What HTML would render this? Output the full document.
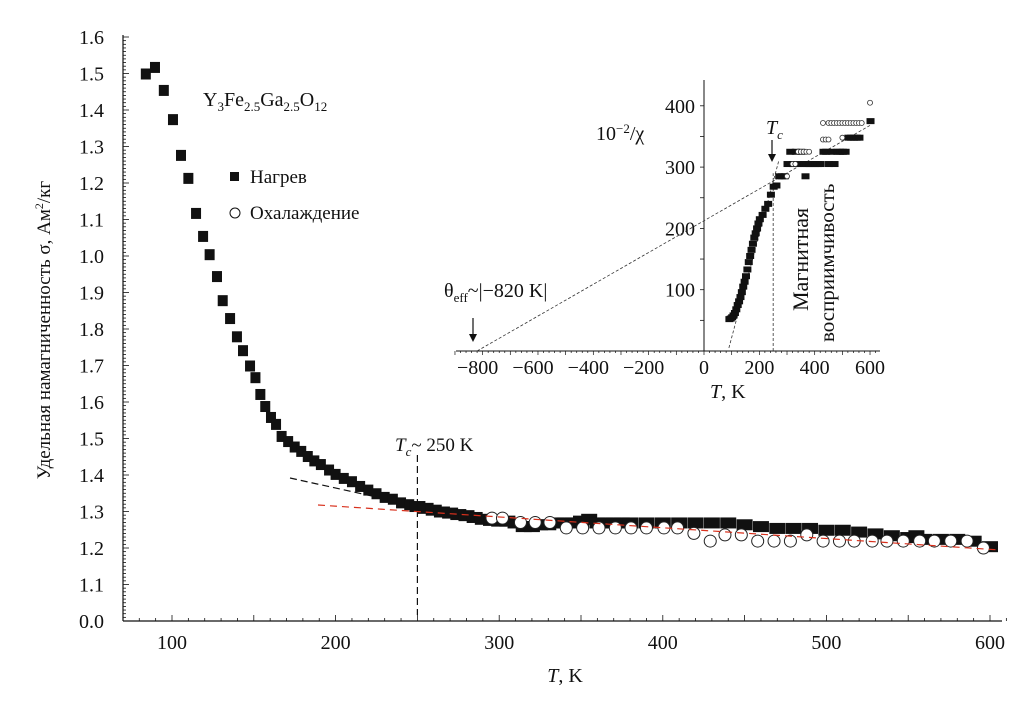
<!DOCTYPE html>
<html><head><meta charset="utf-8">
<style>
html,body{margin:0;padding:0;background:#fff;}
svg text{font-family:"Liberation Serif",serif;fill:#111;}
</style></head>
<body>
<svg id="chart" width="1029" height="712" viewBox="0 0 1029 712" xmlns="http://www.w3.org/2000/svg">
<g id="main-axes"></g>
<g id="main-marks"></g>
<g id="inset"></g>
<text x="203" y="106" font-size="20">Y<tspan font-size="13" dy="5">3</tspan><tspan dy="-5">Fe</tspan><tspan font-size="13" dy="5">2.5</tspan><tspan dy="-5">Ga</tspan><tspan font-size="13" dy="5">2.5</tspan><tspan dy="-5">O</tspan><tspan font-size="13" dy="5">12</tspan></text>
<rect x="230" y="172" width="9" height="9" fill="#111"/>
<text x="250" y="183" font-size="19">Нагрев</text>
<circle cx="235" cy="213" r="5" fill="#fff" stroke="#111"/>
<text x="250" y="219" font-size="19">Охалаждение</text>
<text x="395" y="451" font-size="19"><tspan font-style="italic">T</tspan><tspan font-style="italic" font-size="13" dy="5">c</tspan><tspan dy="-5">~ 250 K</tspan></text>
<text transform="translate(50,330) rotate(-90)" text-anchor="middle" font-size="19">Удельная намагниченность σ, Ам<tspan font-size="12" dy="-7">2</tspan><tspan dy="7">/кг</tspan></text>
<text x="565" y="682" text-anchor="middle" font-size="20"><tspan font-style="italic">T</tspan>, K</text>
</svg>
<script>
const xTicks=[100,200,300,400,500,600];
const yTickValues=[0,0.1,0.2,0.3,0.4,0.5,0.6,0.7,0.8,0.9,1.0,1.1,1.2,1.3,1.4,1.5,1.6];
const yTickLabels=["0.0","1.1","1.2","1.3","1.4","1.5","1.6","1.7","1.8","1.9","1.0","1.1","1.2","1.3","1.4","1.5","1.6"];
const heatT=[84,89.6,95,100.6,105.5,110,114.7,119,123,127.5,131,135.5,139.7,143.4,147.7,151,154,157,160.5,163.6,167,171,175,179,183,187,191,196,200,205,210,215,220,225,230,235,240,245,250,255,260,265,270,275,280,285,290,295,300,305,310,315,320,325,330,335,340,345,350,355,360,365,370,375,380,390,400,410,420,430,440,450,460,470,480,490,500,510,520,530,540,550,555,560,570,580,590,600];
const heatS=[1.50,1.518,1.455,1.375,1.277,1.214,1.118,1.055,1.005,0.945,0.879,0.83,0.78,0.742,0.70,0.668,0.622,0.589,0.559,0.54,0.507,0.493,0.478,0.466,0.452,0.44,0.43,0.415,0.403,0.392,0.383,0.37,0.36,0.35,0.34,0.335,0.325,0.32,0.315,0.31,0.305,0.30,0.297,0.293,0.29,0.285,0.28,0.277,0.275,0.275,0.27,0.26,0.26,0.265,0.265,0.27,0.27,0.27,0.275,0.28,0.27,0.27,0.27,0.27,0.27,0.27,0.27,0.27,0.27,0.27,0.27,0.265,0.26,0.255,0.255,0.255,0.25,0.25,0.245,0.24,0.235,0.23,0.235,0.225,0.225,0.225,0.22,0.205];
const coolT=[295.6,302,313,322,331,341,351,361,371,380.6,390,400.7,409,419,429,438,448,458,468,478,488,498,508,517,528,537,547,557,566,576,586,596];
const coolS=[0.282,0.282,0.27,0.27,0.27,0.255,0.255,0.255,0.255,0.255,0.255,0.255,0.255,0.24,0.219,0.236,0.236,0.219,0.219,0.219,0.236,0.219,0.219,0.219,0.219,0.219,0.219,0.219,0.219,0.219,0.219,0.2];
const insXTicks=[-800,-600,-400,-200,0,200,400,600];
const insYTicks=[100,200,300,400];
const insHeatT=[90,95,100,105,110,115,120,125,130,135,140,145,150,155,160,165,170,175,180,185,190,195,200,210,220,230,240,250,260,270,280,290,300,310,320,330,340,350,360,365,370,380,390,400,410,420,430,440,450,460,470,480,490,500,510,520,530,540,550,560,600];
const insHeatV=[52,53,55,58,62,68,75,81,88,96,105,113,122,133,145,155,165,175,185,192,200,208,215,222,232,240,255,268,270,285,285,285,305,325,305,325,305,325,305,285,305,305,305,305,305,305,325,325,305,325,305,325,325,325,325,348,348,348,348,348,375];
const insCoolT=[300,320,330,340,350,360,370,380,430,440,450,500,430,450,460,470,480,490,500,510,520,530,540,550,560,570,600];
const insCoolV=[285,305,305,325,325,325,325,325,345,345,345,348,372,372,372,372,372,372,372,372,372,372,372,372,372,372,405];

const NS="http://www.w3.org/2000/svg";
function mk(parent,tag,attrs){const e=document.createElementNS(NS,tag);for(const k in attrs)e.setAttribute(k,attrs[k]);parent.appendChild(e);return e;}
const X=t=>172+(t-100)*1.636;
const Y=s=>621-s*365;
const ax=document.getElementById('main-axes');
const mm=document.getElementById('main-marks');
let l=mk(ax,'line',{x1:123,y1:621,x2:1002,y2:621,stroke:'#111','stroke-width':1.2});


l=mk(ax,'line',{x1:123,y1:621,x2:123,y2:35,stroke:'#111','stroke-width':1.2});


for(let i=0;i<=160;i++){const y=Y(i/100);const major=i%10===0;mk(ax,'line',{x1:123,y1:y,x2:123+(major?6:3),y2:y,stroke:'#111','stroke-width':0.8});}
yTickValues.forEach((v,i)=>{const t=mk(ax,'text',{x:104,y:Y(v)+7,'text-anchor':'end','font-size':20});t.textContent=yTickLabels[i];

});
for(let t=70;t<=610;t+=10){const x=X(t);const major=t%50===0;mk(ax,'line',{x1:x,y1:621,x2:x,y2:621-(major?6:3),stroke:'#111','stroke-width':0.8});}
xTicks.forEach(v=>{const t=mk(ax,'text',{x:X(v),y:649,'text-anchor':'middle','font-size':20});t.textContent=v;

});
l=mk(mm,'line',{x1:X(250),y1:455,x2:X(250),y2:615,stroke:'#111','stroke-dasharray':'7,4','stroke-width':1.2});


l=mk(mm,'line',{x1:290,y1:478,x2:440,y2:511,stroke:'#111','stroke-dasharray':'7,4','stroke-width':1.2});


heatT.forEach((t,i)=>{const w=t>=250?16:10;const r=mk(mm,'rect',{x:X(t)-w/2,y:Y(heatS[i])-5,width:w,height:11,fill:'#111'});

});
coolT.forEach((t,i)=>{const c=mk(mm,'circle',{cx:X(t),cy:Y(coolS[i]),r:6,fill:'#fff',stroke:'#222','stroke-width':1});

});
l=mk(mm,'line',{x1:318,y1:505,x2:1000,y2:550,stroke:'#d8301c','stroke-dasharray':'7,5','stroke-width':1.2});


const ins=document.getElementById('inset');
const IX=t=>704+t*0.2767;
const IY=v=>351-v*0.613;
l=mk(ins,'line',{x1:456,y1:351,x2:880,y2:351,stroke:'#111','stroke-width':1});


l=mk(ins,'line',{x1:704,y1:351,x2:704,y2:80,stroke:'#111','stroke-width':1});


for(let t=-900;t<=620;t+=20){mk(ins,'line',{x1:IX(t),y1:351,x2:IX(t),y2:t%100===0?355:353,stroke:'#111','stroke-width':0.7});}
for(let v=50;v<=400;v+=50){mk(ins,'line',{x1:704,y1:IY(v),x2:700,y2:IY(v),stroke:'#111','stroke-width':0.8});}
insXTicks.forEach(v=>{const t=mk(ins,'text',{x:IX(v)-(v<0?5:0),y:374,'text-anchor':'middle','font-size':20});t.textContent=(v<0?'\u2212'+(-v):v);

});
insYTicks.forEach(v=>{const t=mk(ins,'text',{x:695,y:IY(v)+7,'text-anchor':'end','font-size':20});t.textContent=v;

});
l=mk(ins,'line',{x1:IX(-820),y1:IY(0),x2:IX(600),y2:IY(368),stroke:'#333','stroke-dasharray':'3,2','stroke-width':0.8});


l=mk(ins,'line',{x1:IX(90),y1:IY(5),x2:IX(270),y2:IY(310),stroke:'#333','stroke-dasharray':'3,2','stroke-width':0.8});


l=mk(ins,'line',{x1:IX(250),y1:IY(0),x2:IX(250),y2:IY(290),stroke:'#333','stroke-dasharray':'3,2','stroke-width':0.8});


insHeatT.forEach((t,i)=>{const r=mk(ins,'rect',{x:IX(t)-3.5,y:IY(insHeatV[i])-3,width:8,height:6,fill:'#111'});

});
insCoolT.forEach((t,i)=>{const c=mk(ins,'circle',{cx:IX(t),cy:IY(insCoolV[i]),r:2.5,fill:'#fff',stroke:'#333','stroke-width':0.8});

});
function txt(x,y,s,html,name){const t=mk(ins,'text',{x:x,y:y,'font-size':s});t.innerHTML=html;return t;}
txt(596,140,20,'10<tspan font-size="13" dy="-7">−2</tspan><tspan dy="7">/χ</tspan>','inset-y-title');
txt(766,134,20,'<tspan font-style="italic">T</tspan><tspan font-style="italic" font-size="13" dy="5">c</tspan>','inset-tc-label');
txt(444,297,20,'θ<tspan font-size="13" dy="5">eff</tspan><tspan dy="-5">~|−820 K|</tspan>','inset-theta-label');
txt(710,398,20,'<tspan font-style="italic">T</tspan>, K','inset-x-title');
const v1=txt(0,0,22,'Магнитная','inset-vertical-label-1');v1.setAttribute('transform','translate(808,311) rotate(-90)');
const v2=txt(0,0,21,'восприимчивость','inset-vertical-label-2');v2.setAttribute('transform','translate(834,342) rotate(-90)');
function arrow(x,y1,y2,name){const g=mk(ins,'g',{});
mk(g,'line',{x1:x,y1:y1,x2:x,y2:y2-5,stroke:'#111','stroke-width':1.2});
mk(g,'path',{d:`M${x-4},${y2-8} L${x},${y2} L${x+4},${y2-8} Z`,fill:'#111'});}
arrow(473,318,342,'inset-theta-arrow');
arrow(772,140,162,'inset-tc-arrow');
</script>
</body></html>
